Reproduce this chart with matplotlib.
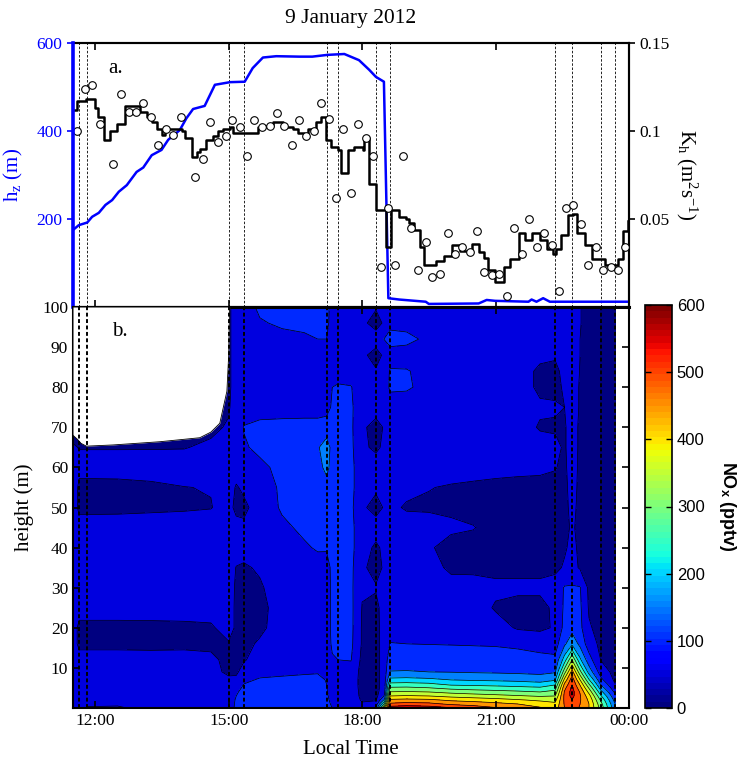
import matplotlib
matplotlib.use("Agg")
import matplotlib.pyplot as plt
from matplotlib.cm import ScalarMappable
from matplotlib.colors import Normalize
import numpy as np

plt.rcParams["font.family"] = "Liberation Serif"
plt.rcParams["mathtext.fontset"] = "custom"
plt.rcParams["mathtext.rm"] = "Liberation Serif"
plt.rcParams["mathtext.it"] = "Liberation Serif:italic"
plt.rcParams["mathtext.sf"] = "Liberation Sans:bold"

# ---- panel a: boundary layer height and Kh ----
hz_t = [11.50, 11.63, 11.82, 11.93, 12.08, 12.23, 12.38, 12.53, 12.71, 12.93, 13.08, 13.27,
        13.49, 13.64, 13.90, 14.05, 14.20, 14.46, 14.69, 15.03, 15.36, 15.54, 15.77, 16.07,
        16.59, 16.88, 17.22, 17.60, 17.93, 18.16, 18.31, 18.49, 18.59, 18.83, 19.43, 19.50,
        20.62, 20.80, 20.99, 21.74, 21.81, 21.92, 22.07, 22.22, 22.41, 23.98]
hz_v = [175, 186, 192, 205, 214, 232, 243, 262, 277, 307, 317, 345, 357, 380, 402, 429, 450,
        457, 505, 511, 512, 543, 567, 570, 569, 569, 573, 575, 561, 539, 523, 512, 20, 17, 12,
        7, 8, 16, 14, 12, 17, 12, 20, 12, 12, 12]

kh_t = [11.50, 11.59, 11.80, 11.99, 12.07, 12.19, 12.34, 12.49, 12.67, 13.01, 13.16, 13.27,
        13.38, 13.49, 13.57, 13.94, 14.02, 14.17, 14.28, 14.35, 14.50, 14.65, 14.76, 14.87,
        15.02, 15.10, 15.66, 15.81, 15.99, 16.14, 16.22, 16.44, 16.55, 16.70, 16.78, 16.96,
        17.08, 17.19, 17.30, 17.45, 17.53, 17.69, 17.82, 18.01, 18.05, 18.12, 18.16, 18.31,
        18.53, 18.64, 18.83, 18.98, 19.05, 19.16, 19.31, 19.39, 19.65, 19.84, 20.02, 20.21,
        20.47, 20.62, 20.73, 20.84, 20.99, 21.18, 21.33, 21.52, 21.67, 21.81, 22.00, 22.15,
        22.30, 22.37, 22.48, 22.63, 22.75, 22.82, 23.01, 23.16, 23.46, 23.75, 23.87, 23.98]
kh_v = [0.112, 0.117, 0.118, 0.113, 0.108, 0.095, 0.100, 0.104, 0.114, 0.111, 0.108, 0.105,
        0.101, 0.098, 0.101, 0.100, 0.096, 0.085, 0.088, 0.090, 0.095, 0.097, 0.100, 0.101,
        0.102, 0.099, 0.102, 0.103, 0.105, 0.105, 0.102, 0.101, 0.099, 0.098, 0.101, 0.105,
        0.108, 0.095, 0.091, 0.089, 0.076, 0.089, 0.091, 0.089, 0.095, 0.096, 0.070, 0.055,
        0.034, 0.055, 0.051, 0.050, 0.048, 0.044, 0.034, 0.024, 0.026, 0.029, 0.035, 0.032,
        0.036, 0.031, 0.028, 0.021, 0.014, 0.023, 0.027, 0.042, 0.038, 0.042, 0.038, 0.033,
        0.030, 0.033, 0.041, 0.052, 0.053, 0.042, 0.035, 0.027, 0.024, 0.027, 0.043, 0.049]

kh10_t = [11.58, 11.76, 11.93, 12.10, 12.41, 12.58, 12.76, 12.92, 13.08, 13.25, 13.42, 13.59,
          13.75, 13.92, 14.24, 14.43, 14.59, 14.76, 14.93, 15.08, 15.25, 15.42, 15.58, 15.76,
          15.92, 16.08, 16.25, 16.42, 16.57, 16.74, 16.92, 17.08, 17.25, 17.41, 17.58, 17.75,
          17.91, 18.08, 18.25, 18.42, 18.59, 18.74, 18.92, 19.09, 19.26, 19.43, 19.57, 19.75,
          19.92, 20.08, 20.25, 20.42, 20.58, 20.75, 20.92, 21.08, 21.25, 21.42, 21.59, 21.76,
          21.93, 22.09, 22.26, 22.43, 22.58, 22.75, 22.92, 23.08, 23.26, 23.42, 23.59, 23.75,
          23.92]
kh10_v = [0.100, 0.124, 0.126, 0.104, 0.081, 0.121, 0.111, 0.111, 0.116, 0.108, 0.092, 0.101,
          0.098, 0.108, 0.074, 0.084, 0.105, 0.094, 0.097, 0.106, 0.102, 0.086, 0.106, 0.102,
          0.103, 0.110, 0.103, 0.092, 0.106, 0.097, 0.100, 0.116, 0.107, 0.062, 0.101, 0.065,
          0.104, 0.096, 0.086, 0.023, 0.056, 0.024, 0.086, 0.045, 0.021, 0.037, 0.017, 0.019,
          0.042, 0.030, 0.034, 0.031, 0.043, 0.020, 0.018, 0.019, 0.006, 0.045, 0.030, 0.050,
          0.034, 0.042, 0.035, 0.009, 0.056, 0.058, 0.047, 0.024, 0.034, 0.021, 0.023, 0.021,
          0.034]

# start/end of each tethered-balloon profile
profile_times = [11.64, 11.82, 15.00, 15.34, 17.20, 17.46, 18.31, 18.63, 22.34, 22.72, 23.37, 23.69]

# ---- panel b: NOx profiles (pptv) ----
heights = [0, 1, 2, 3, 4, 5, 6, 7, 9, 12, 16, 20, 25, 30, 35, 40, 45, 50, 55, 60, 65, 70, 75,
           80, 84, 88, 92, 96, 100]
nox_times = [11.50, 11.64, 11.82, 12.50, 13.25, 14.00, 14.60, 15.00, 15.17, 15.34, 15.70, 16.20,
             16.70, 17.00, 17.20, 17.33, 17.46, 17.75, 18.00, 18.31, 18.50, 18.63, 19.00, 19.50,
             20.00, 20.50, 21.00, 21.50, 22.00, 22.34, 22.55, 22.72, 22.90, 23.10, 23.37, 23.69]
nox_profiles = [
    [80, 80, 80, 80, 80, 80, 80, 80, 80, 80, 80, 80, 80, 80, 85, 85, 85, 85, 85, 80, 55, 30, 30, 30, 30, 30, 30, 30, 30],
    [75, 75, 75, 75, 75, 75, 75, 75, 75, 75, 35, 35, 75, 75, 75, 75, 78, 35, 38, 65, 48, 30, 30, 30, 30, 30, 30, 30, 30],
    [45, 60, 75, 75, 75, 75, 75, 75, 75, 75, 35, 35, 75, 75, 75, 75, 78, 35, 38, 65, 48, 30, 30, 30, 30, 30, 30, 30, 30],
    [42, 58, 75, 75, 75, 75, 75, 75, 75, 75, 35, 35, 75, 75, 75, 75, 78, 36, 39, 65, 48, 30, 30, 30, 30, 30, 30, 30, 30],
    [70, 75, 75, 75, 75, 75, 75, 75, 75, 72, 35, 36, 75, 75, 75, 75, 78, 40, 43, 66, 48, 30, 30, 30, 30, 30, 30, 30, 30],
    [75, 75, 75, 75, 75, 75, 75, 75, 75, 70, 38, 38, 75, 75, 75, 75, 76, 44, 49, 72, 48, 30, 30, 30, 30, 30, 30, 30, 30],
    [75, 75, 75, 75, 75, 75, 75, 75, 75, 62, 38, 42, 75, 75, 75, 75, 75, 48, 52, 72, 58, 40, 30, 30, 30, 30, 30, 30, 30],
    [75, 75, 75, 75, 75, 75, 75, 65, 35, 35, 45, 75, 75, 75, 75, 75, 75, 70, 75, 75, 70, 55, 45, 40, 40, 40, 40, 40, 40],
    [110, 108, 105, 100, 95, 88, 80, 60, 42, 40, 40, 40, 40, 42, 48, 75, 70, 35, 45, 75, 75, 75, 75, 75, 75, 75, 75, 75, 75],
    [125, 125, 122, 118, 112, 106, 100, 92, 70, 45, 40, 38, 38, 40, 45, 65, 60, 38, 60, 75, 95, 102, 80, 75, 75, 75, 75, 75, 75],
    [125, 125, 125, 123, 120, 115, 110, 104, 88, 75, 55, 42, 40, 45, 55, 75, 75, 75, 75, 90, 110, 112, 80, 75, 75, 75, 78, 95, 110],
    [125, 125, 125, 124, 122, 118, 113, 107, 92, 78, 75, 68, 66, 72, 75, 78, 92, 105, 108, 112, 115, 115, 80, 75, 75, 75, 85, 108, 118],
    [125, 125, 125, 125, 123, 120, 116, 110, 95, 80, 75, 75, 75, 75, 80, 95, 108, 115, 115, 118, 122, 115, 82, 75, 75, 75, 92, 112, 120],
    [122, 122, 122, 122, 122, 120, 116, 110, 97, 80, 75, 75, 75, 75, 85, 104, 115, 120, 125, 130, 145, 115, 82, 75, 75, 78, 100, 115, 120],
    [112, 110, 108, 106, 104, 102, 100, 98, 92, 80, 75, 75, 75, 75, 80, 105, 115, 120, 130, 165, 172, 125, 80, 75, 75, 80, 100, 115, 120],
    [100, 95, 90, 85, 82, 80, 78, 78, 80, 95, 108, 112, 112, 112, 112, 112, 115, 118, 122, 130, 135, 118, 108, 100, 78, 75, 75, 75, 75],
    [95, 90, 85, 82, 80, 78, 78, 78, 82, 100, 110, 115, 115, 115, 115, 115, 115, 115, 118, 125, 118, 115, 110, 104, 85, 75, 75, 75, 75],
    [75, 75, 75, 75, 75, 75, 75, 75, 80, 102, 110, 112, 112, 110, 110, 110, 110, 110, 110, 110, 110, 108, 106, 102, 80, 75, 75, 75, 75],
    [70, 55, 45, 40, 38, 36, 35, 35, 35, 38, 45, 45, 48, 55, 60, 75, 75, 60, 75, 75, 60, 60, 75, 75, 75, 62, 75, 62, 75],
    [110, 70, 45, 35, 32, 30, 30, 30, 30, 30, 30, 32, 35, 55, 30, 40, 75, 30, 60, 75, 40, 30, 75, 75, 55, 30, 75, 30, 55],
    [380, 260, 160, 105, 85, 78, 75, 75, 75, 75, 75, 75, 75, 75, 58, 62, 75, 55, 75, 75, 60, 55, 75, 75, 75, 60, 102, 58, 75],
    [580, 510, 460, 400, 352, 308, 262, 215, 152, 125, 102, 78, 75, 75, 75, 75, 75, 60, 62, 75, 75, 75, 75, 108, 104, 80, 118, 86, 75],
    [590, 520, 465, 405, 355, 310, 265, 218, 153, 126, 100, 76, 75, 75, 75, 75, 72, 45, 62, 75, 75, 75, 75, 106, 103, 80, 112, 85, 75],
    [580, 515, 460, 400, 350, 302, 258, 212, 150, 124, 99, 76, 75, 75, 70, 55, 75, 42, 52, 75, 75, 75, 75, 85, 85, 80, 90, 80, 75],
    [555, 490, 440, 385, 335, 285, 235, 200, 148, 124, 98, 78, 75, 70, 40, 35, 58, 42, 45, 75, 75, 75, 75, 75, 75, 75, 75, 75, 75],
    [530, 480, 430, 375, 325, 278, 232, 195, 145, 122, 97, 78, 75, 68, 40, 35, 52, 35, 40, 72, 75, 75, 75, 75, 75, 75, 75, 75, 75],
    [505, 465, 420, 365, 318, 272, 228, 192, 143, 120, 96, 70, 45, 60, 38, 35, 35, 35, 38, 65, 75, 75, 75, 75, 75, 75, 75, 75, 75],
    [480, 450, 405, 355, 310, 265, 222, 188, 140, 117, 92, 45, 35, 60, 38, 35, 35, 35, 36, 62, 75, 75, 75, 75, 75, 75, 75, 75, 75],
    [455, 430, 390, 345, 300, 258, 215, 180, 136, 112, 85, 40, 35, 60, 38, 35, 35, 35, 38, 58, 72, 45, 58, 40, 40, 62, 75, 75, 75],
    [425, 410, 385, 350, 315, 280, 240, 195, 145, 110, 80, 55, 60, 70, 40, 35, 35, 35, 40, 52, 60, 45, 55, 40, 40, 55, 75, 75, 75],
    [500, 505, 510, 512, 505, 485, 455, 415, 330, 225, 140, 115, 108, 104, 55, 45, 40, 40, 40, 42, 45, 45, 50, 55, 62, 75, 75, 75, 75],
    [525, 535, 550, 565, 570, 562, 545, 530, 470, 350, 190, 130, 115, 105, 65, 60, 55, 60, 65, 70, 70, 70, 75, 75, 75, 75, 75, 75, 75],
    [495, 500, 505, 505, 495, 470, 440, 400, 315, 210, 135, 112, 108, 103, 45, 42, 40, 40, 40, 40, 42, 42, 45, 45, 48, 50, 50, 52, 52],
    [450, 450, 440, 420, 385, 345, 300, 255, 180, 120, 75, 55, 45, 40, 36, 35, 35, 35, 35, 35, 35, 35, 35, 35, 35, 35, 35, 35, 35],
    [330, 315, 290, 255, 215, 175, 140, 112, 75, 48, 38, 35, 35, 35, 35, 35, 35, 35, 35, 35, 35, 35, 35, 35, 35, 35, 35, 35, 35],
    [160, 150, 130, 110, 88, 66, 50, 40, 35, 35, 35, 35, 35, 35, 35, 35, 35, 35, 35, 35, 35, 35, 35, 35, 35, 35, 35, 35, 35],
]
# top of the sampled column before 15:00 (no data above)
gap_t = [11.50, 11.60, 11.68, 11.80, 12.40, 13.45, 14.35, 14.60, 14.80, 14.96, 15.00, 15.02]
gap_h = [68.0, 67.0, 66.0, 65.3, 65.6, 66.4, 67.4, 68.8, 71.0, 79.0, 88.0, 100.0]

xticks = [12, 15, 18, 21, 24]
xticklabels = ["12:00", "15:00", "18:00", "21:00", "00:00"]
levels = list(range(0, 650, 50))

W, H = 746, 764
fig = plt.figure(figsize=(W / 100, H / 100), dpi=100)


def rect(x0, y0, x1, y1):
    return [x0 / W, 1 - y1 / H, (x1 - x0) / W, (y1 - y0) / H]


ax = fig.add_axes(rect(73, 43, 629, 307))
axk = ax.twinx()
axb = fig.add_axes(rect(73, 307, 629, 708))
cax = fig.add_axes(rect(645, 305, 672, 708))

blue = "#0000ff"
tick_fs = 12.5

# panel a
ax.plot(hz_t, hz_v, color=blue, lw=1.8, zorder=3)
axk.plot(kh_t, kh_v, color="k", lw=1.8, drawstyle="steps-post", zorder=4)
axk.plot(kh10_t, kh10_v, ls="none", marker="o", ms=5.5, mfc="white", mec="k", mew=0.8, zorder=5)
for t in profile_times:
    ax.axvline(t, color="k", lw=0.6, ls=(0, (3, 2)), zorder=1)
ax.set_xlim(11.5, 24)
ax.set_ylim(0, 600)
axk.set_ylim(0, 0.15)
ax.set_yticks([200, 400, 600])
axk.set_yticks([0.05, 0.1, 0.15])
axk.set_yticklabels(["0.05", "0.1", "0.15"])
ax.set_xticks(xticks)
ax.set_xticklabels([])
ax.tick_params(axis="x", direction="in", top=True, bottom=True, length=5, width=1.2)
ax.tick_params(axis="y", colors=blue, labelsize=tick_fs, direction="out", length=4, width=1.2)
axk.tick_params(axis="y", labelsize=tick_fs, direction="out", length=4, width=1.2)
for s in list(ax.spines.values()) + list(axk.spines.values()):
    s.set_linewidth(1.5)
axk.spines["left"].set_visible(False)
ax.spines["left"].set_visible(False)
# blue h_z axis line drawn on top of everything in panel a
axk.axvline(11.5, color=blue, lw=2.6, zorder=20, clip_on=False)
ax.set_ylabel(r"h$_\mathrm{z}$ (m)", color=blue, fontsize=15, labelpad=8)
axk.set_ylabel(r"K$_\mathrm{h}$ (m$^2$s$^{-1}$)", fontsize=15, rotation=270, labelpad=21)
ax.text(0.063, 0.905, "a.", transform=ax.transAxes, fontsize=15, va="center")
fig.text(351 / W, 1 - 18 / H, "9 January 2012", ha="center", va="center", fontsize=15.5)

# panel b
Z = np.array(nox_profiles, dtype=float).T
band_colors = [plt.cm.jet(lv / 600) for lv in levels[:-1]]
axb.contourf(nox_times, heights, Z, levels=levels, colors=band_colors, zorder=1)
axb.contour(nox_times, heights, Z, levels=levels[1:-1], colors="k", linewidths=0.5, zorder=2)
axb.fill_between(gap_t, gap_h, 100, color="white", lw=0, zorder=3)
axb.plot(gap_t, gap_h, color="k", lw=0.6, zorder=3)
for t in profile_times:
    axb.axvline(t, color="k", lw=1.4, ls=(0, (2, 1.3)), zorder=4)
axb.set_xlim(11.5, 24)
axb.set_ylim(0, 100)
axb.set_yticks(range(10, 101, 10))
axb.set_xticks(xticks)
axb.set_xticklabels(xticklabels)
axb.tick_params(direction="in", top=True, right=True, length=5, width=1.2, labelsize=tick_fs)
for s in axb.spines.values():
    s.set_linewidth(1.5)
axb.spines["top"].set_linewidth(2.2)
axb.set_ylabel("height (m)", fontsize=15, labelpad=6)
axb.set_xlabel("Local Time", fontsize=15, labelpad=8)
axb.text(0.07, 0.938, "b.", transform=axb.transAxes, fontsize=15, va="center", zorder=5)

sm = ScalarMappable(norm=Normalize(0, 600), cmap=plt.get_cmap("jet", 64))
cb = fig.colorbar(sm, cax=cax, ticks=range(0, 700, 100))
cb.outline.set_linewidth(1.2)
cax.tick_params(direction="in", left=True, right=True, length=4, width=1, labelsize=12)
for lab in cax.get_yticklabels():
    lab.set_family("Liberation Sans")
cb.set_label(r"NO$_\mathsf{x}$ (pptv)", rotation=270, fontsize=13, fontweight="bold",
             family="Liberation Sans", labelpad=24)

fig.savefig("out.png", dpi=100)
